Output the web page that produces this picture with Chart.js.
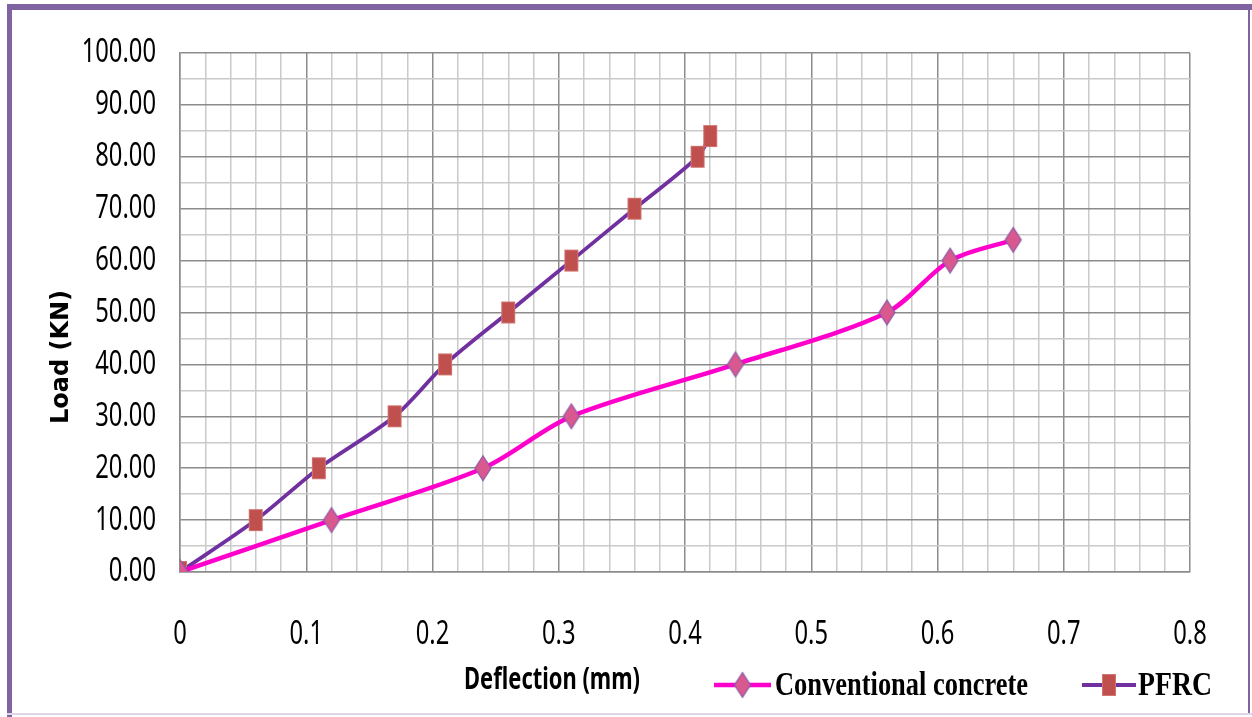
<!DOCTYPE html>
<html>
<head>
<meta charset="utf-8">
<script src="https://cdn.jsdelivr.net/npm/chart.js@4.4.1/dist/chart.umd.min.js"></script>
<style>
  html, body { margin: 0; padding: 0; background: #ffffff; }
  #wrap { width: 1252px; height: 717px; position: relative; }
</style>
</head>
<body>
<div id="wrap"><canvas id="chart" width="1252" height="717"></canvas></div>
<script>
// deflection (mm) / load (KN)
const conventionalX = [0, 0.12, 0.24, 0.31, 0.44, 0.56, 0.61, 0.66];
const conventionalY = [0, 10, 20, 30, 40, 50, 60, 64];
const pfrcX = [0, 0.06, 0.11, 0.17, 0.21, 0.26, 0.31, 0.36, 0.41, 0.42];
const pfrcY = [0, 10, 20, 30, 40, 50, 60, 70, 80, 84];

const xTickLabels = ['0', '0.1', '0.2', '0.3', '0.4', '0.5', '0.6', '0.7', '0.8'];
const yTickLabels = ['0.00', '10.00', '20.00', '30.00', '40.00', '50.00', '60.00', '70.00', '80.00', '90.00', '100.00'];

const seriesNames = ['Conventional concrete', 'PFRC'];
const xTitle = 'Deflection (mm)';
const yTitle = 'Load (KN)';

const tickFont = "'Noto Sans', 'Open Sans', sans-serif";

// tall marker images (the original markers look stretched vertically)
function makeMarker(kind) {
    let c = document.createElement('canvas');
    c.width = 20;
    c.height = 28;
    let ctx = c.getContext('2d');
    if (kind === 'diamond') {
        ctx.beginPath();
        ctx.moveTo(10, 1.5);
        ctx.lineTo(18, 14);
        ctx.lineTo(10, 26.5);
        ctx.lineTo(2, 14);
        ctx.closePath();
        ctx.fillStyle = '#d8588f';
        ctx.fill();
        ctx.lineWidth = 1.2;
        ctx.strokeStyle = '#8a5aa8';
        ctx.stroke();
    } else {
        ctx.fillStyle = '#c0504d';
        ctx.fillRect(3, 3, 14, 22);
        ctx.lineWidth = 1;
        ctx.strokeStyle = '#d07572';
        ctx.strokeRect(3.5, 3.5, 13, 21);
    }
    return c;
}
const diamondImg = makeMarker('diamond');
const squareImg = makeMarker('square');

function toPoints(xs, ys) {
    return xs.map((x, i) => ({x: x, y: ys[i]}));
}

// text squeezed horizontally, like the narrow font of the original
function narrowText(ctx, text, x, y, font, sx, align) {
    ctx.save();
    ctx.font = font;
    ctx.fillStyle = '#000000';
    ctx.textBaseline = 'middle';
    const w = ctx.measureText(text).width * sx;
    let left = x;
    if (align === 'right') left = x - w;
    if (align === 'center') left = x - w / 2;
    ctx.translate(left, y);
    ctx.scale(sx, 1);
    ctx.fillText(text, 0, 0);
    ctx.restore();
}

function measure(ctx, text, font) {
    ctx.save();
    ctx.font = font;
    const w = ctx.measureText(text).width;
    ctx.restore();
    return w;
}

// frame, tick labels, axis titles and the legend row
const decorPlugin = {
    id: 'decor',
    beforeDraw(chart) {
        const ctx = chart.ctx;
        ctx.save();
        ctx.fillStyle = '#ffffff';
        ctx.fillRect(0, 0, chart.width, chart.height);
        ctx.fillStyle = '#8064a2';
        ctx.fillRect(7, 4, 1245, 6);
        ctx.fillRect(7, 4, 5, 713);
        ctx.fillRect(1248, 4, 2, 710);
        ctx.fillStyle = '#ddd5ea';
        ctx.fillRect(7, 713, 1245, 2);
        ctx.restore();
    },
    afterDraw(chart) {
        const ctx = chart.ctx;
        const xs = chart.scales.x;
        const ys = chart.scales.y;

        // tick labels
        yTickLabels.forEach(lbl => {
            narrowText(ctx, lbl, 156, ys.getPixelForValue(parseFloat(lbl)), '33px ' + tickFont, 0.72, 'right');
        });
        xTickLabels.forEach(lbl => {
            narrowText(ctx, lbl, xs.getPixelForValue(parseFloat(lbl)), 635, '33px ' + tickFont, 0.72, 'center');
        });

        // y title
        ctx.save();
        ctx.translate(62, 357);
        ctx.rotate(-Math.PI / 2);
        ctx.font = "bold 24px 'DejaVu Sans', sans-serif";
        ctx.fillStyle = '#000000';
        ctx.textAlign = 'center';
        ctx.textBaseline = 'middle';
        ctx.fillText(yTitle, 0, 0);
        ctx.restore();

        // x title
        const xFont = "bold 31px " + tickFont;
        narrowText(ctx, xTitle, 552, 680, xFont, 176 / measure(ctx, xTitle, xFont), 'center');

        // legend
        const items = [
            {x0: 714, x1: 771, color: '#ff00cc', width: 4.5, img: diamondImg, text: seriesNames[0], tx: 775, tw: 253},
            {x0: 1082, x1: 1136, color: '#7030a0', width: 3.8, img: squareImg, text: seriesNames[1], tx: 1138, tw: 74}
        ];
        const ly = 685;
        const lFont = "bold 33px 'Liberation Serif', serif";
        items.forEach(it => {
            ctx.save();
            ctx.strokeStyle = it.color;
            ctx.lineWidth = it.width;
            ctx.beginPath();
            ctx.moveTo(it.x0, ly);
            ctx.lineTo(it.x1, ly);
            ctx.stroke();
            ctx.drawImage(it.img, (it.x0 + it.x1) / 2 - it.img.width / 2, ly - it.img.height / 2);
            ctx.restore();
            narrowText(ctx, it.text, it.tx, ly + 1, lFont, it.tw / measure(ctx, it.text, lFont), 'left');
        });
    }
};

function gridColor(major) {
    return (context) => {
        if (!context.tick) return '#c8c8c8';
        let r = Math.round(context.tick.value / major * 1000) / 1000;
        return Number.isInteger(r) ? '#8c8c8c' : '#cacaca';
    };
}

new Chart(document.getElementById('chart'), {
    type: 'scatter',
    data: {
        datasets: [
            {
                label: seriesNames[0],
                data: toPoints(conventionalX, conventionalY),
                showLine: true,
                borderColor: '#ff00cc',
                borderWidth: 4.5,
                tension: 0.3,
                pointStyle: diamondImg,
                backgroundColor: '#d8588f'
            },
            {
                label: seriesNames[1],
                data: toPoints(pfrcX, pfrcY),
                showLine: true,
                borderColor: '#7030a0',
                borderWidth: 3.8,
                tension: 0.3,
                pointStyle: squareImg,
                backgroundColor: '#c0504d'
            }
        ]
    },
    options: {
        responsive: false,
        animation: false,
        layout: {padding: {left: 0, top: 53, right: 62, bottom: 0}},
        plugins: {
            legend: {display: false},
            tooltip: {enabled: false}
        },
        scales: {
            x: {
                type: 'linear',
                min: 0,
                max: 0.8,
                afterFit: (scale) => { scale.height = 145; },
                afterBuildTicks: (scale) => {
                    let t = [];
                    for (let i = 0; i <= 40; i++) t.push({value: i * 0.02});
                    scale.ticks = t;
                },
                ticks: {display: false},
                grid: {color: gridColor(0.1), lineWidth: 1.5, drawTicks: false},
                border: {color: '#8c8c8c', width: 1.5}
            },
            y: {
                min: 0,
                max: 100,
                afterFit: (scale) => { scale.width = 180; },
                afterBuildTicks: (scale) => {
                    let t = [];
                    for (let i = 0; i <= 20; i++) t.push({value: i * 5});
                    scale.ticks = t;
                },
                ticks: {display: false},
                grid: {color: gridColor(10), lineWidth: 1.5, drawTicks: false},
                border: {color: '#8c8c8c', width: 1.5}
            }
        }
    },
    plugins: [decorPlugin]
});
</script>
</body>
</html>
